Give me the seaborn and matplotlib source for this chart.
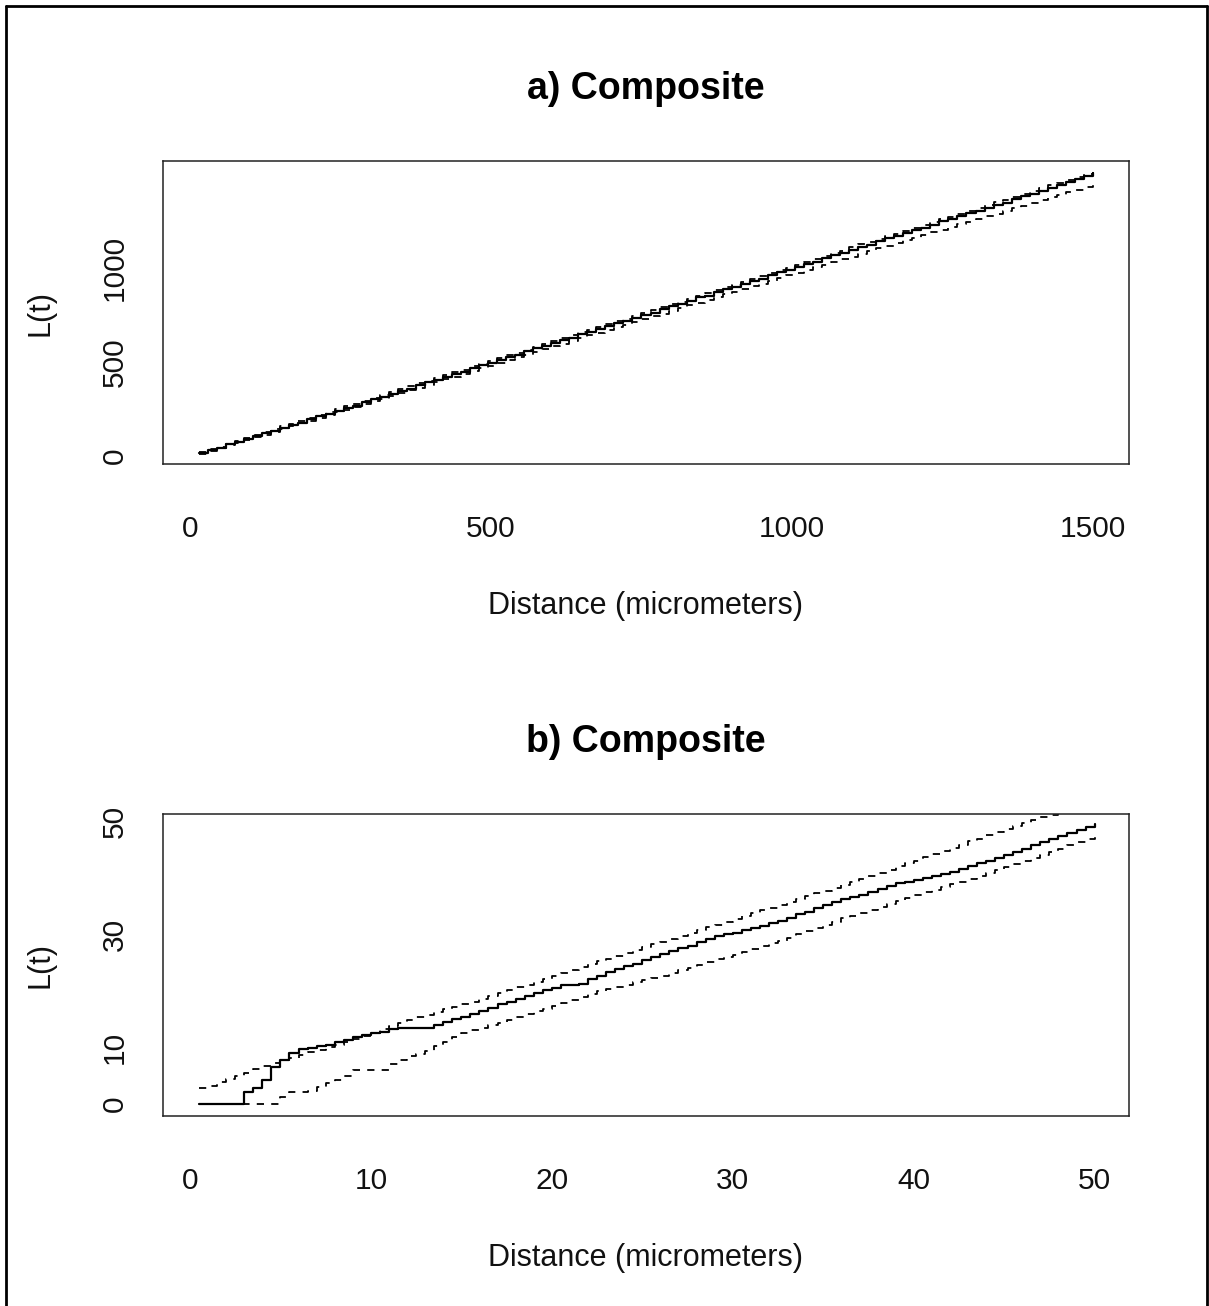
import numpy as np
import pandas as pd
import matplotlib
matplotlib.use("Agg")
import matplotlib.pyplot as plt
from matplotlib.lines import Line2D
import seaborn as sns

# ---------------- data: panel a ----------------
t_a = [15, 30, 45, 60, 75, 90, 105, 120, 135, 150, 165, 180, 195, 210, 225, 240, 255,
       270, 285, 300, 315, 330, 345, 360, 375, 390, 405, 420, 435, 450, 465, 480, 495,
       510, 525, 540, 555, 570, 585, 600, 615, 630, 645, 660, 675, 690, 705, 720, 735,
       750, 765, 780, 795, 810, 825, 840, 855, 870, 885, 900, 915, 930, 945, 960, 975,
       990, 1005, 1020, 1035, 1050, 1065, 1080, 1095, 1110, 1125, 1140, 1155, 1170,
       1185, 1200, 1215, 1230, 1245, 1260, 1275, 1290, 1305, 1320, 1335, 1350, 1365,
       1380, 1395, 1410, 1425, 1440, 1455, 1470, 1485, 1500]
L_a = [14, 31, 44, 62, 77, 88, 106, 122, 133, 151, 167, 178, 197, 212, 223, 241, 257,
       268, 287, 303, 313, 331, 347, 358, 377, 392, 403, 421, 438, 448, 466, 482, 493,
       511, 527, 538, 557, 573, 583, 601, 617, 628, 647, 662, 673, 691, 708, 718, 736,
       752, 763, 781, 797, 808, 827, 843, 853, 871, 887, 898, 917, 932, 943, 961, 978,
       988, 1006, 1022, 1033, 1051, 1067, 1078, 1097, 1113, 1123, 1141, 1157, 1168,
       1187, 1202, 1213, 1231, 1248, 1258, 1276, 1292, 1303, 1321, 1337, 1348, 1367,
       1383, 1393, 1412, 1427, 1441, 1458, 1472, 1490, 1503]
upper_a = [19, 35, 50, 66, 81, 96, 112, 127, 142, 158, 172, 188, 203, 218, 234, 249, 264,
           279, 295, 310, 325, 340, 356, 370, 386, 401, 415, 431, 446, 460, 476, 491, 505,
           521, 536, 550, 566, 582, 596, 611, 627, 641, 657, 672, 686, 702, 718, 731, 747,
           762, 776, 792, 808, 821, 837, 853, 866, 882, 898, 911, 927, 943, 956, 972, 988,
           1001, 1018, 1034, 1047, 1063, 1079, 1092, 1109, 1125, 1138, 1154, 1170, 1183,
           1199, 1215, 1228, 1244, 1260, 1273, 1289, 1305, 1318, 1334, 1350, 1363, 1379,
           1395, 1408, 1424, 1440, 1453, 1469, 1484, 1499, 1510]
lower_a = [12, 26, 41, 56, 70, 85, 100, 114, 129, 144, 158, 173, 188, 202, 217, 232, 246,
           261, 276, 290, 305, 320, 334, 349, 364, 378, 393, 407, 422, 437, 451, 466, 480,
           495, 510, 524, 539, 553, 568, 583, 597, 612, 626, 641, 655, 670, 685, 699, 714,
           728, 743, 757, 772, 786, 801, 816, 830, 844, 859, 873, 888, 902, 917, 931, 946,
           960, 974, 989, 1003, 1018, 1032, 1046, 1061, 1075, 1089, 1104, 1118, 1132,
           1147, 1161, 1175, 1190, 1204, 1218, 1232, 1247, 1261, 1275, 1289, 1304, 1318,
           1332, 1346, 1360, 1375, 1389, 1403, 1417, 1432, 1458]

# ---------------- data: panel b ----------------
t_b = [0.5, 1.0, 1.5, 2.0, 2.5, 3.0, 3.5, 4.0, 4.5, 5.0, 5.5, 6.0, 6.5, 7.0, 7.5, 8.0,
       8.5, 9.0, 9.5, 10.0, 10.5, 11.0, 11.5, 12.0, 12.5, 13.0, 13.5, 14.0, 14.5, 15.0,
       15.5, 16.0, 16.5, 17.0, 17.5, 18.0, 18.5, 19.0, 19.5, 20.0, 20.5, 21.0, 21.5,
       22.0, 22.5, 23.0, 23.5, 24.0, 24.5, 25.0, 25.5, 26.0, 26.5, 27.0, 27.5, 28.0,
       28.5, 29.0, 29.5, 30.0, 30.5, 31.0, 31.5, 32.0, 32.5, 33.0, 33.5, 34.0, 34.5,
       35.0, 35.5, 36.0, 36.5, 37.0, 37.5, 38.0, 38.5, 39.0, 39.5, 40.0, 40.5, 41.0,
       41.5, 42.0, 42.5, 43.0, 43.5, 44.0, 44.5, 45.0, 45.5, 46.0, 46.5, 47.0, 47.5,
       48.0, 48.5, 49.0, 49.5, 50.0]
L_b = [0, 0, 0, 0, 0, 2.2, 2.8, 4.2, 6.6, 7.8, 9.0, 9.8, 9.9, 10.2, 10.5, 10.9,
       11.3, 11.8, 12.2, 12.5, 12.8, 13.2, 13.5, 13.5, 13.5, 13.5, 14.0, 14.5, 15.0, 15.4,
       15.9, 16.5, 17.0, 17.6, 18.1, 18.6, 19.1, 19.6, 20.1, 20.5, 21.0, 21.0, 21.2,
       22.0, 22.7, 23.3, 23.8, 24.3, 24.8, 25.4, 26.0, 26.5, 27.0, 27.5, 28.0, 28.6,
       29.2, 29.6, 30.0, 30.3, 30.7, 31.1, 31.5, 31.9, 32.4, 32.9, 33.5, 34.0, 34.6,
       35.2, 35.7, 36.2, 36.6, 37.0, 37.5, 38.0, 38.5, 39.0, 39.3, 39.6, 40.0, 40.3,
       40.6, 41.0, 41.5, 42.0, 42.5, 43.0, 43.5, 44.0, 44.6, 45.1, 45.7, 46.3, 46.8,
       47.4, 47.9, 48.4, 48.9, 49.4]
upper_b = [2.8, 3.2, 3.8, 4.5, 5.0, 5.5, 6.2, 6.8, 7.3, 7.7, 8.2, 8.7, 9.1, 9.5, 10.0, 10.5,
           11.0, 11.5, 12.0, 12.6, 13.2, 13.8, 14.4, 14.9, 15.3, 15.7, 16.2, 16.7, 17.2, 17.6,
           18.1, 18.6, 19.1, 19.6, 20.1, 20.6, 21.1, 21.6, 22.1, 22.6, 23.1, 23.6, 24.2,
           24.8, 25.3, 25.7, 26.2, 26.7, 27.2, 27.7, 28.2, 28.7, 29.2, 29.7, 30.2, 30.7,
           31.2, 31.7, 32.2, 32.7, 33.2, 33.7, 34.2, 34.7, 35.2, 35.7, 36.2, 36.7, 37.2,
           37.7, 38.2, 38.7, 39.2, 39.8, 40.3, 40.9, 41.4, 42.0, 42.5, 43.0, 43.6, 44.2,
           44.7, 45.3, 45.8, 46.4, 46.9, 47.5, 48.0, 48.6, 49.1, 49.7, 50.2, 50.7, 51.1,
           51.6, 52.1, 52.6, 53.1, 53.5]
lower_b = [0, 0, 0, 0, 0, 0, 0, 0, 0, 1.3, 2.2, 2.2, 2.3, 3.0, 3.7, 4.3,
           5.0, 6.0, 6.0, 6.0, 6.0, 7.0, 7.8, 8.4, 8.8, 9.3, 10.2, 11.0, 11.8, 12.5,
           13.0, 13.5, 14.0, 14.4, 14.9, 15.4, 15.9, 16.4, 16.8, 17.3, 17.8, 18.3, 18.9,
           19.4, 19.9, 20.3, 20.7, 21.1, 21.5, 21.9, 22.3, 22.7, 23.2, 23.6, 24.1, 24.6,
           25.1, 25.6, 26.0, 26.4, 26.9, 27.4, 27.9, 28.4, 28.8, 29.4, 30.0, 30.6, 31.1,
           31.7, 32.2, 32.8, 33.3, 33.8, 34.3, 34.8, 35.3, 35.8, 36.4, 36.9, 37.4, 37.9,
           38.4, 38.8, 39.3, 39.8, 40.3, 40.8, 41.3, 41.8, 42.4, 42.9, 43.5, 44.0, 44.6,
           45.1, 45.7, 46.3, 46.8, 47.3]

titles = ["a) Composite", "b) Composite"]
xlabel = "Distance (micrometers)"
ylabel = "L(t)"
xticks_a = [0, 500, 1000, 1500]
yticks_a = [0, 500, 1000, 1500]
ylabels_a = ["0", "500", "1000", ""]
xticks_b = [0, 10, 20, 30, 40, 50]
yticks_b = [0, 10, 20, 30, 40, 50]
ylabels_b = ["0", "10", "", "30", "", "50"]

# ---------------- style ----------------
sns.set_style("white")
plt.rcParams["font.family"] = ["Liberation Sans", "DejaVu Sans"]
plt.rcParams["axes.edgecolor"] = "#222222"
plt.rcParams["axes.linewidth"] = 1.1

W, H = 1209, 1306
fig = plt.figure(figsize=(W / 100, H / 100), dpi=100)
fig.patch.set_facecolor("white")

def px_axes(left, top, right, bottom):
    return fig.add_axes([left / W, 1 - bottom / H, (right - left) / W, (bottom - top) / H])

ax_a = px_axes(163, 161, 1129, 464)
ax_b = px_axes(163, 814, 1129, 1116)

panels = [
    (ax_a, t_a, L_a, upper_a, lower_a, (-45, 1560), (-42.6, 1569),
     xticks_a, yticks_a, ylabels_a),
    (ax_b, t_b, L_b, upper_b, lower_b, (-1.49, 51.9), (-2.12, 51.24),
     xticks_b, yticks_b, ylabels_b),
]

for i, (ax, t, L, up, lo, xl, yl, xt, yt, ytl) in enumerate(panels):
    df = pd.DataFrame({"t": t, "L": L, "up": up, "lo": lo})
    sns.lineplot(data=df, x="t", y="lo", ax=ax, color="black", lw=1.3,
                 estimator=None, drawstyle="steps-post", linestyle=(0, (4, 4)))
    sns.lineplot(data=df, x="t", y="up", ax=ax, color="black", lw=1.3,
                 estimator=None, drawstyle="steps-post", linestyle=(0, (4, 4)))
    sns.lineplot(data=df, x="t", y="L", ax=ax, color="black", lw=1.6,
                 estimator=None, drawstyle="steps-post")
    ax.set_xlim(*xl)
    ax.set_ylim(*yl)
    ax.set_xticks(xt)
    ax.set_xticklabels([str(v) for v in xt])
    ax.set_yticks(yt)
    ax.set_yticklabels(ytl, rotation=90, va="center")
    ax.tick_params(axis="both", which="major", direction="out", length=9.5,
                   width=1.1, color="#222222", labelsize=21.5, labelcolor="#111111")
    ax.tick_params(axis="x", pad=27)
    ax.tick_params(axis="y", pad=15)
    for s in ax.spines.values():
        s.set_visible(True)
        s.set_color("#222222")
        s.set_linewidth(1.1)
    ax.set_xlabel(xlabel, fontsize=22, color="#111111")
    ax.set_ylabel(ylabel, fontsize=22, color="#111111")
    ax.xaxis.label.set_va("center")
    ax.yaxis.label.set_va("center")
    ax.xaxis.set_label_coords(0.5, -(606 - 464) / 303)
    ax.yaxis.set_label_coords(-(163 - 40) / 966, 0.5)
    ax.set_title(titles[i], fontsize=27, fontweight="bold", color="black",
                 y=(464 - 97) / 303, va="center")
    ax.grid(False)

# outer frame (left, top, right edges)
lw_frame = 2.0
fig.add_artist(Line2D([6 / W, 6 / W], [0, 1 - 6 / H], transform=fig.transFigure,
                      color="black", lw=lw_frame))
fig.add_artist(Line2D([6 / W, 1206.5 / W], [1 - 6 / H, 1 - 6 / H], transform=fig.transFigure,
                      color="black", lw=lw_frame))
fig.add_artist(Line2D([1206.5 / W, 1206.5 / W], [0, 1 - 6 / H], transform=fig.transFigure,
                      color="black", lw=lw_frame))

fig.savefig("out.png", dpi=100, facecolor="white")
